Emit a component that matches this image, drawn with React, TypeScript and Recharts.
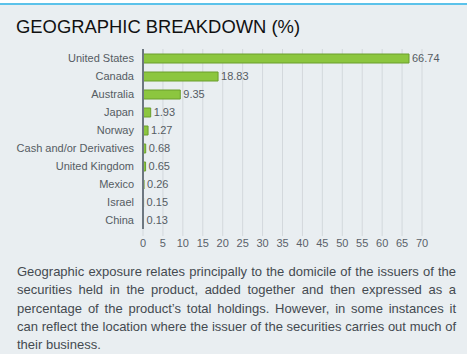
import React from "react";
import { BarChart, Bar, XAxis, YAxis, CartesianGrid, LabelList } from "recharts";

const countries = [
  "United States",
  "Canada",
  "Australia",
  "Japan",
  "Norway",
  "Cash and/or Derivatives",
  "United Kingdom",
  "Mexico",
  "Israel",
  "China",
];
const weights = [66.74, 18.83, 9.35, 1.93, 1.27, 0.68, 0.65, 0.26, 0.15, 0.13];
const xTicks = [0, 5, 10, 15, 20, 25, 30, 35, 40, 45, 50, 55, 60, 65, 70];

const data = countries.map((name, i) => ({ name, value: weights[i] }));

const font = '"Liberation Sans", Arial, sans-serif';

// single-line category label (no wrapping)
const CountryTick = (props: any) => {
  const { x, y, payload } = props;
  return (
    <text
      x={x}
      y={y}
      dy="0.35em"
      textAnchor="end"
      fontSize={11}
      fill="#555c63"
      fontFamily={font}
    >
      {payload.value}
    </text>
  );
};

const App = () => {
  return (
    <div
      style={{
        position: "relative",
        width: 467,
        height: 354,
        background: "#e9eef1",
        fontFamily: font,
        overflow: "hidden",
      }}
    >
      <style>{`body{margin:0}`}</style>
      <div
        style={{
          position: "absolute",
          left: 0,
          top: 0,
          width: 467,
          height: 3,
          background: "#ffffff",
        }}
      />
      <div
        style={{
          position: "absolute",
          left: 0,
          top: 3,
          width: 467,
          height: 2,
          background: "#5bc2ea",
        }}
      />
      <div
        style={{
          position: "absolute",
          left: 16,
          top: 15,
          fontSize: 18.4,
          color: "#111",
          lineHeight: "24px",
          whiteSpace: "nowrap",
        }}
      >
        GEOGRAPHIC BREAKDOWN (%)
      </div>
      <div style={{ position: "absolute", left: 0, top: 0 }}>
        <BarChart
          width={467}
          height={259}
          data={data}
          layout="vertical"
          margin={{ top: 49, right: 45, left: 0, bottom: 0 }}
          barCategoryGap={4}
        >
          <CartesianGrid horizontal={false} stroke="#d3d8dc" strokeWidth={1} />
          <XAxis
            type="number"
            domain={[0, 70]}
            ticks={xTicks}
            interval={0}
            axisLine={false}
            tickLine={{ stroke: "#d3d8dc" }}
            tickSize={7}
            tickMargin={3}
            height={30}
            tick={{ fontSize: 11, fill: "#5a6169", fontFamily: font }}
          />
          <YAxis
            type="category"
            dataKey="name"
            width={143}
            axisLine={{ stroke: "#6d7780", strokeWidth: 2 }}
            tickLine={false}
            tickSize={6}
            tickMargin={3}
            interval={0}
            tick={<CountryTick />}
          />
          <Bar
            dataKey="value"
            fill="#8cc63f"
            stroke="#6b9e2d"
            strokeWidth={1}
            barSize={9}
            isAnimationActive={false}
          >
            <LabelList
              dataKey="value"
              position="right"
              offset={3}
              style={{ fontSize: 11, fill: "#555c63", fontFamily: font }}
            />
          </Bar>
        </BarChart>
      </div>
      <div
        style={{
          position: "absolute",
          left: 17,
          top: 263,
          width: 439,
          fontSize: 13,
          lineHeight: "18.3px",
          color: "#444a50",
          textAlign: "justify",
        }}
      >
        Geographic exposure relates principally to the domicile of the issuers
        of the securities held in the product, added together and then
        expressed as a percentage of the product’s total holdings. However, in
        some instances it can reflect the location where the issuer of the
        securities carries out much of their business.
      </div>
    </div>
  );
};

export default App;
